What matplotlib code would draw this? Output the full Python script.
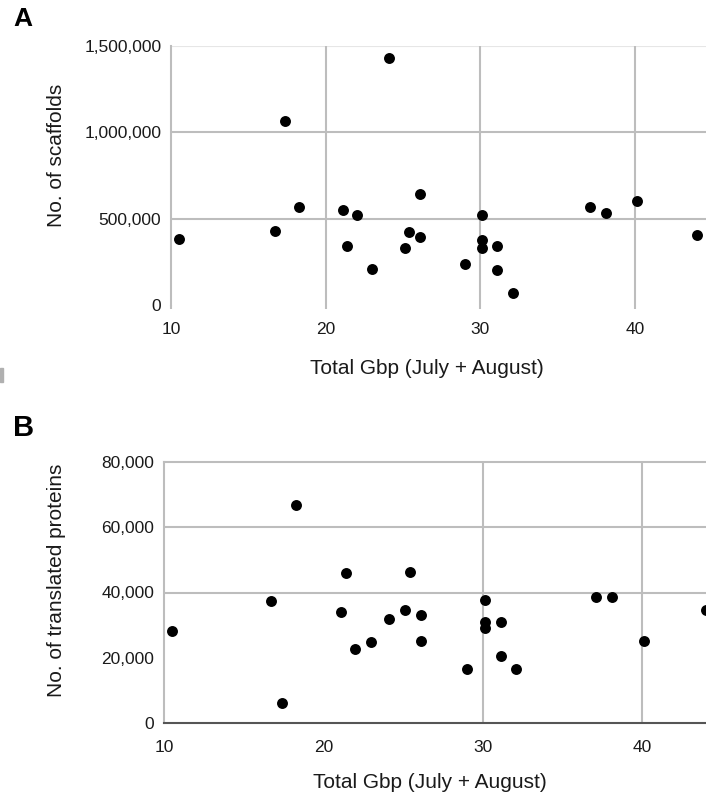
import matplotlib
matplotlib.use("Agg")
import matplotlib.pyplot as plt
from matplotlib.ticker import FuncFormatter
from matplotlib.patches import Rectangle

plt.rcParams['font.family'] = ['Liberation Sans', 'DejaVu Sans']

# Total Gbp (July + August), one value per sample
gbp = [10.5, 16.7, 17.4, 18.3, 21.1, 21.4, 22.0, 23.0, 24.1, 25.1, 25.4, 26.1,
       26.1, 29.0, 30.1, 30.1, 30.1, 31.1, 31.1, 32.1, 37.1, 38.1, 40.1, 44.0]

# panel A: number of scaffolds
scaffolds = [382000, 428000, 1064000, 568000, 548000, 343000, 523000, 211000,
             1428000, 330000, 424000, 643000, 391000, 238000, 523000, 376000,
             333000, 343000, 205000, 68000, 570000, 531000, 605000, 405000]

# panel B: number of translated proteins
proteins = [28200, 37500, 6200, 66700, 34100, 46100, 22600, 24700,
            32000, 34600, 46400, 33200, 25000, 16500, 37800, 31000,
            29000, 31000, 20500, 16600, 38700, 38700, 25000, 34700]

x_ticks = [10, 20, 30, 40]
ticks_a = [0, 500000, 1000000, 1500000]
ticks_b = [0, 20000, 40000, 60000, 80000]

W, H = 706, 801
fig = plt.figure(figsize=(W / 100, H / 100), dpi=100)

def px_axes(left, top, right, bottom):
    return fig.add_axes([left / W, 1 - bottom / H, (right - left) / W, (bottom - top) / H])

comma = FuncFormatter(lambda v, p: f"{int(v):,}")
grid_col = '#bdbdbd'
txt_col = '#1a1a1a'
tick_fs = 12.5
lab_fs = 15

# ---- panel A ----
ax1 = px_axes(171, 46, 706, 305)
ax1.scatter(gbp, scaffolds, s=62, color='black', zorder=3, clip_on=False, linewidths=0)
ax1.set_xlim(10, 10 + 535 / 15.47)
ax1.set_ylim(0, 1500000)
ax1.set_xticks(x_ticks)
ax1.set_yticks(ticks_a)
ax1.yaxis.set_major_formatter(comma)
for v in [500000, 1000000]:
    ax1.axhline(v, color=grid_col, lw=1.5, zorder=1)
ax1.axhline(1500000, color='#e6e6e6', lw=1.5, zorder=1)
for v in [20, 30, 40]:
    ax1.axvline(v, color=grid_col, lw=1.5, zorder=1)
for s in ['top', 'right', 'bottom']:
    ax1.spines[s].set_visible(False)
ax1.spines['left'].set_color(grid_col)
ax1.spines['left'].set_linewidth(1.5)
ax1.tick_params(axis='x', length=3, width=1.5, color=grid_col, pad=9,
                labelsize=tick_fs, labelcolor=txt_col)
ax1.tick_params(axis='y', length=0, pad=7, labelsize=tick_fs, labelcolor=txt_col)
ax1.set_xlabel('Total Gbp (July + August)', fontsize=lab_fs, color=txt_col)
ax1.xaxis.set_label_coords(256 / 535, -(359 - 305) / 259)
ax1.set_ylabel('No. of scaffolds', fontsize=lab_fs, color=txt_col)
ax1.yaxis.set_label_coords((66 - 171) / 535, 1 - (155 - 46) / 259)

# ---- panel B ----
ax2 = px_axes(164, 462, 706, 723)
ax2.scatter(gbp, proteins, s=62, color='black', zorder=3, clip_on=False, linewidths=0)
ax2.set_xlim(10, 10 + 542 / 15.95)
ax2.set_ylim(0, 80000)
ax2.set_xticks(x_ticks)
ax2.set_yticks(ticks_b)
ax2.yaxis.set_major_formatter(comma)
for v in [40000, 60000]:
    ax2.axhline(v, color=grid_col, lw=1.5, zorder=1)
for v in [30, 40]:
    ax2.axvline(v, color=grid_col, lw=1.5, zorder=1)
ax2.spines['right'].set_visible(False)
ax2.spines['top'].set_color(grid_col)
ax2.spines['top'].set_linewidth(1.5)
ax2.spines['left'].set_color(grid_col)
ax2.spines['left'].set_linewidth(1.5)
ax2.spines['bottom'].set_color('#555555')
ax2.spines['bottom'].set_linewidth(1.5)
ax2.tick_params(axis='x', length=0, pad=12, labelsize=tick_fs, labelcolor=txt_col)
ax2.tick_params(axis='y', length=0, pad=7, labelsize=tick_fs, labelcolor=txt_col)
ax2.set_xlabel('Total Gbp (July + August)', fontsize=lab_fs, color=txt_col)
ax2.xaxis.set_label_coords((430 - 164) / 542, -(773 - 723) / 261)
ax2.set_ylabel('No. of translated proteins', fontsize=lab_fs, color=txt_col)
ax2.yaxis.set_label_coords((66 - 164) / 542, 1 - (580 - 462) / 261)

# panel letters
fig.text(13 / W, 1 - 26 / H, 'A', fontsize=19, fontweight='bold', ha='left', va='baseline')
fig.text(13 / W, 1 - 436 / H, 'B', fontsize=21, fontweight='bold', ha='left', va='baseline')

# small grey mark at the left edge
fig.patches.append(Rectangle((0, 1 - 382 / H), 3 / W, 14 / H, transform=fig.transFigure,
                             color='#b0b0b0', figure=fig))

fig.savefig('out.png', dpi=100)
